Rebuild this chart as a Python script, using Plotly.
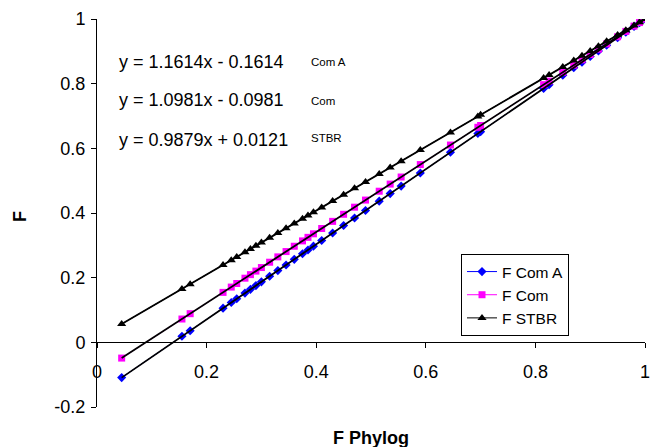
import plotly.graph_objects as go

# F Phylog (shared x values)
f_phylog = [0.045, 0.155, 0.17, 0.23, 0.245, 0.255, 0.27, 0.28, 0.29, 0.30,
            0.315, 0.33, 0.345, 0.36, 0.375, 0.385, 0.395, 0.41, 0.43, 0.45,
            0.47, 0.49, 0.515, 0.535, 0.555, 0.59, 0.645, 0.695, 0.70, 0.815,
            0.825, 0.85, 0.87, 0.885, 0.90, 0.915, 0.93, 0.95, 0.965, 0.98,
            0.99, 1.0]

f_com_a = [-0.1091, 0.0186, 0.0360, 0.1057, 0.1231, 0.1348, 0.1522, 0.1638, 0.1754, 0.1870,
           0.2044, 0.2219, 0.2393, 0.2567, 0.2741, 0.2857, 0.2974, 0.3148, 0.3380, 0.3612,
           0.3845, 0.4077, 0.4367, 0.4600, 0.4832, 0.5238, 0.5877, 0.6458, 0.6516, 0.7851,
           0.7968, 0.8258, 0.8490, 0.8664, 0.8839, 0.9013, 0.9187, 0.9419, 0.9594, 0.9768,
           0.9884, 1.0]

f_com = [-0.0487, 0.0721, 0.0886, 0.1545, 0.1709, 0.1819, 0.1984, 0.2094, 0.2203, 0.2313,
         0.2478, 0.2643, 0.2807, 0.2972, 0.3137, 0.3247, 0.3356, 0.3521, 0.3741, 0.3960,
         0.4180, 0.4400, 0.4674, 0.4894, 0.5113, 0.5498, 0.6102, 0.6651, 0.6706, 0.7969,
         0.8078, 0.8353, 0.8572, 0.8737, 0.8902, 0.9067, 0.9231, 0.9451, 0.9616, 0.9780,
         0.9890, 1.0]

f_stbr = [0.0566, 0.1652, 0.1800, 0.2393, 0.2541, 0.2640, 0.2788, 0.2887, 0.2986, 0.3085,
          0.3233, 0.3381, 0.3529, 0.3677, 0.3826, 0.3924, 0.4023, 0.4171, 0.4369, 0.4567,
          0.4764, 0.4962, 0.5209, 0.5406, 0.5604, 0.5950, 0.6493, 0.6987, 0.7036, 0.8172,
          0.8271, 0.8518, 0.8716, 0.8864, 0.9012, 0.9160, 0.9308, 0.9506, 0.9654, 0.9802,
          0.9901, 1.0]

series_names = ["F Com A", "F Com", "F STBR"]
series_values = [f_com_a, f_com, f_stbr]
series_colors = ["#0000FF", "#FF00FF", "#000000"]
series_symbols = ["diamond", "square", "triangle-up"]
series_sizes = [7, 7, 8]

# Linear trendlines: y = slope * x + intercept
trend_tags = ["Com A", "Com", "STBR"]
trend_slopes = [1.1614, 1.0981, 0.9879]
trend_intercepts = [-0.1614, -0.0981, 0.0121]

x_ticks = [0, 0.2, 0.4, 0.6, 0.8, 1.0]
x_tick_labels = ["0", "0.2", "0.4", "0.6", "0.8", "1"]
y_ticks = [-0.2, 0, 0.2, 0.4, 0.6, 0.8, 1.0]
y_tick_labels = ["-0.2", "0", "0.2", "0.4", "0.6", "0.8", "1"]

FONT = "Liberation Sans, Arial, sans-serif"

# Plot-area geometry in pixels
W, H = 652, 447
L, R, T, B = 97, 7, 19, 40
PW, PH = W - L - R, H - T - B

fig = go.Figure()

for name, vals, col, sym, sz in zip(series_names, series_values, series_colors,
                                    series_symbols, series_sizes):
    fig.add_trace(go.Scatter(
        x=f_phylog, y=vals, name=name, mode="lines+markers",
        line=dict(color=col, width=1),
        marker=dict(symbol=sym, size=sz, color=col, line=dict(width=0)),
    ))

x_lo, x_hi = min(f_phylog), max(f_phylog)
for m, b in zip(trend_slopes, trend_intercepts):
    fig.add_trace(go.Scatter(
        x=[x_lo, x_hi], y=[m * x_lo + b, m * x_hi + b],
        mode="lines", line=dict(color="black", width=1.8),
        showlegend=False, hoverinfo="skip",
    ))

# Trendline equations and their series tags
eq_y = [0.867, 0.749, 0.626]
tag_y = [0.867, 0.745, 0.632]
for tag, m, b, ey, ty in zip(trend_tags, trend_slopes, trend_intercepts, eq_y, tag_y):
    sign = "-" if b < 0 else "+"
    fig.add_annotation(
        x=0.036, y=ey, xref="x", yref="y", xanchor="left", yanchor="middle",
        text=f"y = {m:.4f}x {sign} {abs(b):.4f}", showarrow=False,
        font=dict(family=FONT, size=18, color="black"),
    )
    fig.add_annotation(
        x=0.386, y=ty, xref="x", yref="y", xanchor="left", yanchor="middle",
        text=tag, showarrow=False,
        font=dict(family=FONT, size=11.5, color="black"),
    )

# Axis titles
fig.add_annotation(
    x=0.5, y=-(438 - (T + PH)) / PH, xref="paper", yref="paper",
    text="<b>F Phylog</b>", showarrow=False, xanchor="center", yanchor="middle",
    font=dict(family=FONT, size=18, color="black"),
)
fig.add_annotation(
    x=-(L - 20) / PW, y=0.5 - (217 - (T + PH / 2)) / PH, xref="paper", yref="paper",
    text="<b>F</b>", textangle=-90, showarrow=False, xanchor="center", yanchor="middle",
    font=dict(family=FONT, size=18, color="black"),
)

fig.update_layout(
    width=W, height=H,
    margin=dict(l=L, r=R, t=T, b=B, autoexpand=False),
    paper_bgcolor="white", plot_bgcolor="white",
    font=dict(family=FONT, size=18, color="black"),
    showlegend=True,
    legend=dict(
        x=(461 - L) / PW, y=(T + PH - 254) / PH, xanchor="left", yanchor="top",
        bordercolor="black", borderwidth=1, bgcolor="white",
        font=dict(family=FONT, size=15.5, color="black"),
        tracegroupgap=0, itemwidth=30,
    ),
    xaxis=dict(
        range=[0, 1], anchor="free", position=0.2 / 1.2, automargin=False,
        showline=True, linecolor="black", linewidth=1,
        ticks="outside", ticklen=5, tickcolor="black",
        tickvals=x_ticks, ticktext=x_tick_labels, ticklabelstandoff=8,
        tickfont=dict(family=FONT, size=18, color="black"),
        showgrid=False, zeroline=False,
    ),
    yaxis=dict(
        range=[-0.2, 1], automargin=False,
        showline=True, linecolor="black", linewidth=1,
        ticks="outside", ticklen=5, tickcolor="black",
        tickvals=y_ticks, ticktext=y_tick_labels, ticklabelstandoff=2,
        tickfont=dict(family=FONT, size=18, color="black"),
        showgrid=False, zeroline=False,
    ),
)

fig.write_html("out.html")
